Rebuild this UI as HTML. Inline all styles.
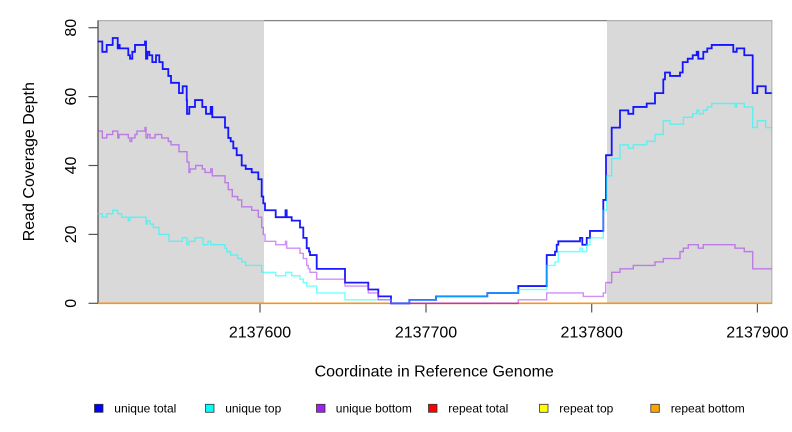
<!DOCTYPE html>
<html><head><meta charset="utf-8"><style>
html,body{margin:0;padding:0;background:#fff;}
svg{display:block;font-family:"Liberation Sans",Arial,sans-serif;}
</style></head><body>
<svg width="792" height="432" viewBox="0 0 792 432" xmlns="http://www.w3.org/2000/svg">
<rect x="0" y="0" width="792" height="432" fill="#fff"/>
<!-- plot box -->
<rect x="98" y="20.7" width="673.7" height="282.6" fill="#fff" stroke="#666" stroke-width="1"/>
<!-- shaded regions -->
<rect x="98" y="20.7" width="166" height="282.6" fill="#d9d9d9"/>
<rect x="607" y="20.7" width="164.7" height="282.6" fill="#d9d9d9"/>
<line x1="98" y1="20.7" x2="264" y2="20.7" stroke="#b4b4b4" stroke-width="1"/>
<line x1="607" y1="20.7" x2="771.7" y2="20.7" stroke="#b4b4b4" stroke-width="1"/>
<line x1="771.7" y1="20.7" x2="771.7" y2="303.3" stroke="#b4b4b4" stroke-width="1"/>
<!-- left axis -->
<line x1="98" y1="20.7" x2="98" y2="303.3" stroke="#444" stroke-width="1.2"/>
<g stroke="#555" stroke-width="1.2">
<line x1="88.5" y1="303.3" x2="98" y2="303.3"/>
<line x1="88.5" y1="234.4" x2="98" y2="234.4"/>
<line x1="88.5" y1="165.5" x2="98" y2="165.5"/>
<line x1="88.5" y1="96.6" x2="98" y2="96.6"/>
<line x1="88.5" y1="27.7" x2="98" y2="27.7"/>
<line x1="260" y1="303.3" x2="260" y2="312.5"/>
<line x1="426" y1="303.3" x2="426" y2="312.5"/>
<line x1="591.7" y1="303.3" x2="591.7" y2="312.5"/>
<line x1="757.4" y1="303.3" x2="757.4" y2="312.5"/>
</g>
<!-- baseline repeat series -->
<line x1="98" y1="303.3" x2="771.7" y2="303.3" stroke="#f7941d" stroke-width="1.6"/>
<line x1="409.3" y1="303.3" x2="518.3" y2="303.3" stroke="#d4507e" stroke-width="1.6"/>
<line x1="391" y1="303.3" x2="409.3" y2="303.3" stroke="#3b4cf0" stroke-width="1.6"/>
<!-- series -->
<g transform="matrix(1 0 0 -3.445 0 303.3)" fill="none" stroke-linejoin="miter">
<path vector-effect="non-scaling-stroke" stroke="#0000ff" stroke-opacity="0.9" stroke-width="1.8" d="M97.7 76 H102.3 V73 H106.7 V75 H112.7 V77 H117.7 V74 H118.7 V75 H119.7 V74 H128.3 V72 H130 V71 H132.3 V73 H135 V75 H145 V76 H146 V71 H147.3 V73 H149.3 V72 H152.3 V70 H156 V72 H159.3 V70 H162.7 V68 H168.3 V66 H171 V64 H179 V61 H182.7 V63 H186.7 V59 H187 V55 H189.3 V57 H195 V59 H202.3 V57 H206 V55 H210.7 V57 H212.3 V54 H225 V51 H228.3 V48 H230.7 V47 H233.3 V45 H236.7 V43 H241.7 V40 H245.7 V39 H251.7 V38 H258.3 V36 H261.7 V31 H263.3 V29 H265 V27 H275.7 V25 H285.5 V27 H286.7 V25 H291.7 V24 H300 V22 H303.3 V19 H306.7 V16 H309 V15 H310 V14 H316.7 V10 H345 V6 H368.3 V4 H378.3 V2 H391 V0 H409.3 V1 H436 V2 H487.3 V3 H518.3 V5 H546.7 V14 H555 V15 H556.7 V17 H558.3 V18 H580 V19 H582.3 V17 H586.7 V19 H590 V21 H603.3 V30 H606 V43 H611.7 V51 H620 V56 H628.3 V55 H633.3 V57 H646.7 V58 H655 V61 H663.3 V65 H665 V67 H670 V66 H680 V67 H682.7 V70 H687.7 V71 H692.7 V72 H696.7 V73 H698.3 V71 H703.3 V73 H707.3 V74 H711.7 V75 H733.3 V73 H736.7 V74 H744.3 V72 H752.7 V61 H757.3 V63 H765.7 V61 H771.7"/>
<path vector-effect="non-scaling-stroke" stroke="#00ffff" stroke-opacity="0.55" stroke-width="1.4" d="M97.7 26 H102.3 V25 H106.7 V26 H112.7 V27 H117.7 V26 H121.7 V25 H128.3 V24 H130 V25 H145 V25 H146 V23 H147.3 V24 H150 V23 H153.3 V22 H159 V20 H169 V18 H182.3 V19 H187 V17 H189 V18 H195 V19 H203 V17 H208 V18 H210.7 V17 H225 V16 H226.7 V15 H230.7 V14 H237.7 V13 H241.7 V12 H245.7 V11 H261.7 V9 H275.7 V8 H285.7 V9 H291.7 V8 H300 V7 H303.3 V6 H306.7 V5 H316.7 V3 H345 V1 H391 V0 H409.3 V1 H436 V2 H487.3 V3 H518.3 V4 H546.7 V11 H555 V12 H558.3 V15 H580 V16 H582.3 V15 H586.7 V17 H590 V19 H603.3 V27 H606.7 V37 H611.7 V42 H620 V46 H628.3 V45 H633.3 V46 H646.7 V47 H655 V49 H663.3 V53 H670 V52 H683.3 V54 H692.7 V55 H696.7 V56 H699 V55 H703.3 V56 H707.3 V57 H711.7 V58 H735 V57 H736.7 V58 H744.3 V57 H752.7 V51 H757.3 V53 H765.7 V51 H771.7"/>
<path vector-effect="non-scaling-stroke" stroke="#a020f0" stroke-opacity="0.5" stroke-width="1.4" d="M97.7 50 H102.3 V48 H106.7 V49 H112.7 V50 H117.7 V48 H119 V49 H128.3 V48 H130 V47 H131.7 V48 H135 V49 H137 V50 H145 V51 H146 V48 H147.7 V49 H150 V48 H155 V49 H161.7 V48 H168.3 V47 H171 V46 H179 V44 H187 V41 H189 V38 H190 V39 H195.7 V40 H202.3 V39 H205 V38 H210.7 V39 H212.3 V37 H225 V35 H228.3 V33 H232.3 V31 H237.7 V30 H241.7 V28 H251.7 V27 H258.3 V25 H261.7 V22 H263.3 V20 H265 V18 H275.7 V17 H285.5 V18 H286.7 V16 H300 V14.5 H303.3 V13 H306.7 V11 H308.3 V10 H310 V9 H316.7 V7 H345 V5 H368.3 V3 H378.3 V1 H391 V0 H518.3 V1 H546.7 V3 H583.3 V2 H603.3 V3 H605.7 V6 H611.7 V9 H620 V10 H633.3 V11 H655 V12 H663.3 V13 H680 V15 H683.3 V16 H688.3 V17 H698.3 V16 H703.3 V17 H735 V16 H744.3 V15 H752.7 V10 H771.7"/>
</g>
<!-- tick labels -->
<g font-size="16" fill="#000" text-anchor="middle">
<text x="260" y="337.5">2137600</text>
<text x="426" y="337.5">2137700</text>
<text x="591.7" y="337.5">2137800</text>
<text x="757.4" y="337.5">2137900</text>
<text transform="translate(76 303.3) rotate(-90)">0</text>
<text transform="translate(76 234.4) rotate(-90)">20</text>
<text transform="translate(76 165.5) rotate(-90)">40</text>
<text transform="translate(76 96.6) rotate(-90)">60</text>
<text transform="translate(76 27.7) rotate(-90)">80</text>
<text x="434.2" y="376.5">Coordinate in Reference Genome</text>
<text transform="translate(34 161.7) rotate(-90)">Read Coverage Depth</text>
</g>
<!-- legend -->
<g stroke="#333" stroke-width="0.8">
<rect x="94.5" y="404.3" width="8.5" height="8" fill="#0000ff"/>
<rect x="205.5" y="404.3" width="8.5" height="8" fill="#00ffff"/>
<rect x="316.5" y="404.3" width="8.5" height="8" fill="#a020f0"/>
<rect x="428.5" y="404.3" width="8.5" height="8" fill="#ff0000"/>
<rect x="539.5" y="404.3" width="8.5" height="8" fill="#ffff00"/>
<rect x="650.8" y="404.3" width="8.5" height="8" fill="#ffa500"/>
</g>
<g font-size="12" fill="#000">
<text x="114.3" y="412.5">unique total</text>
<text x="225.2" y="412.5">unique top</text>
<text x="335.8" y="412.5">unique bottom</text>
<text x="448.3" y="412.5">repeat total</text>
<text x="559.3" y="412.5">repeat top</text>
<text x="670.7" y="412.5">repeat bottom</text>
</g>
</svg>
</body></html>
